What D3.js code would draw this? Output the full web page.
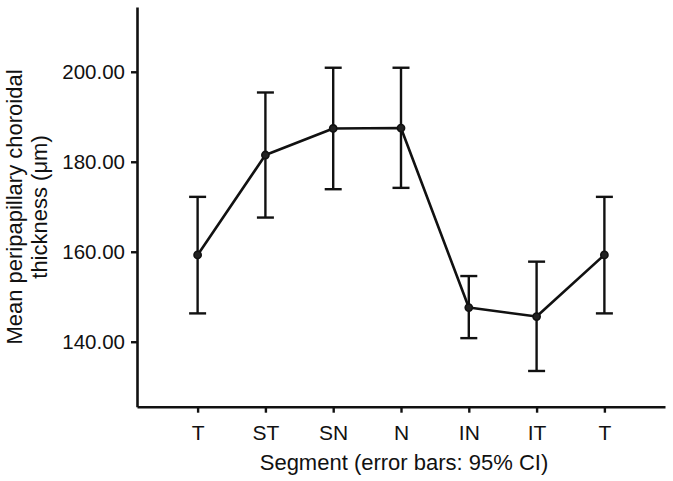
<!DOCTYPE html>
<html>
<head>
<meta charset="utf-8">
<script src="https://cdn.jsdelivr.net/npm/d3@7"></script>
<style>
  body { margin: 0; background: #fff; }
  svg { display: block; font-family: "Liberation Sans", Arial, sans-serif; }
</style>
</head>
<body>
<svg id="chart" width="673" height="481"></svg>
<script>
const segments = ["T", "ST", "SN", "N", "IN", "IT", "T "];
const tickLabels = ["T", "ST", "SN", "N", "IN", "IT", "T"];
const means = [159.3, 181.5, 187.4, 187.5, 147.6, 145.6, 159.3];
const upper = [172.2, 195.4, 200.9, 200.9, 154.6, 157.8, 172.2];
const lower = [146.3, 167.6, 173.9, 174.2, 140.8, 133.5, 146.3];
const yTicks = [140, 160, 180, 200];
const yTitle = ["Mean peripapillary choroidal", "thickness (\u03bcm)"];
const xTitle = "Segment (error bars: 95% CI)";

const svg = d3.select("#chart");
const plotLeft = 137, plotRight = 665, plotTop = 7, plotBottom = 406.7;

const x = d3.scalePoint().domain(segments).range([plotLeft, plotRight]).padding(0.894);
const y = d3.scaleLinear().domain([125.56, 214.4]).range([plotBottom, plotTop]);

const data = segments.map((s, i) => ({ s, m: means[i], hi: upper[i], lo: lower[i] }));

// axes
const yAxis = svg.append("g").attr("transform", `translate(${plotLeft},0)`)
  .call(d3.axisLeft(y).tickValues(yTicks).tickFormat(d3.format(".2f")).tickSize(6).tickPadding(6).tickSizeOuter(0));
const xAxis = svg.append("g").attr("transform", `translate(0,${plotBottom})`)
  .call(d3.axisBottom(x).tickFormat((d, i) => tickLabels[i]).tickSize(6).tickPadding(12).tickSizeOuter(0));

[yAxis, xAxis].forEach(g => {
  g.select(".domain").attr("stroke", "#111").attr("stroke-width", 2.6);
  g.selectAll(".tick line").attr("stroke", "#111").attr("stroke-width", 2.4);
  g.selectAll(".tick text").attr("fill", "#111").attr("font-family", "Liberation Sans, Arial, sans-serif");
});
yAxis.selectAll(".tick text").attr("font-size", 20.5);
xAxis.selectAll(".tick text").attr("font-size", 21);

// error bars
const eb = svg.append("g").attr("stroke", "#111").attr("stroke-width", 2.4).attr("fill", "none");
data.forEach(d => {
  const cx = x(d.s);
  eb.append("line").attr("x1", cx).attr("x2", cx).attr("y1", y(d.hi)).attr("y2", y(d.lo));
  eb.append("line").attr("x1", cx - 8.5).attr("x2", cx + 8.5).attr("y1", y(d.hi)).attr("y2", y(d.hi));
  eb.append("line").attr("x1", cx - 8.5).attr("x2", cx + 8.5).attr("y1", y(d.lo)).attr("y2", y(d.lo));
});

// mean line
svg.append("path").datum(data)
  .attr("fill", "none").attr("stroke", "#111").attr("stroke-width", 2.6)
  .attr("stroke-linejoin", "round")
  .attr("d", d3.line().x(d => x(d.s)).y(d => y(d.m)));

svg.append("g").selectAll("circle").data(data).join("circle")
  .attr("cx", d => x(d.s)).attr("cy", d => y(d.m)).attr("r", 3.6)
  .attr("fill", "#222").attr("stroke", "#111").attr("stroke-width", 1.6);

// titles
const yt = svg.append("text")
  .attr("transform", "translate(22,207) rotate(-90)")
  .attr("text-anchor", "middle").attr("font-size", 22).attr("fill", "#111");
yt.append("tspan").attr("x", 0).attr("y", 0).text(yTitle[0]);
yt.append("tspan").attr("x", 0).attr("y", 25).text(yTitle[1]);

svg.append("text").attr("x", 404).attr("y", 470)
  .attr("text-anchor", "middle").attr("font-size", 22).attr("fill", "#111")
  .text(xTitle);
</script>
</body>
</html>
